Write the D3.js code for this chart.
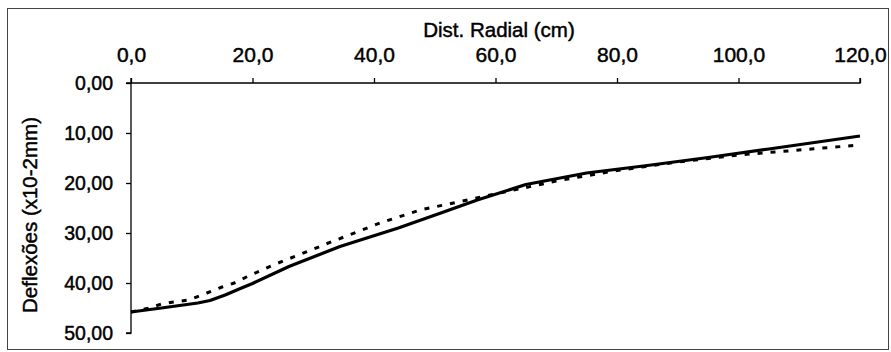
<!DOCTYPE html>
<html>
<head>
<meta charset="utf-8">
<script src="https://cdn.jsdelivr.net/npm/d3@7"></script>
<style>
  body { margin: 0; background: #fff; }
  svg text { font-family: "Liberation Sans", Arial, sans-serif; fill: #000; stroke: #000; stroke-width: 0.45px; }
</style>
</head>
<body>
<div id="chart"></div>
<script>
// Données
const xTicks = [0, 20, 40, 60, 80, 100, 120];
const yTicks = [0, 10, 20, 30, 40, 50];

// Courbe continue
const distSolid = [0, 5, 11, 13, 15.5, 18, 20, 26, 34.4, 44, 51, 57, 65, 75, 85, 95, 105, 120];
const defSolid = [45.8, 45.0, 44.0, 43.5, 42.4, 41.1, 40.1, 36.7, 32.7, 29.0, 26.0, 23.4, 20.3, 18.0, 16.5, 14.9, 13.2, 10.6];

// Courbe pointillée
const distDashed = [0, 3, 5, 7, 9.5, 12.5, 15, 17, 19, 23.4, 28, 32.3, 41, 47.6, 54.6, 60, 70, 80, 90, 100, 106, 112, 120];
const defDashed = [45.8, 45.0, 44.2, 43.8, 43.4, 42.0, 40.8, 40.0, 38.8, 36.4, 34.2, 32.1, 28.0, 25.4, 23.6, 22.2, 19.6, 17.5, 15.8, 14.4, 13.8, 13.2, 12.4];

const width = 891, height = 352;
const margin = { left: 131, right: 31, top: 83, bottom: 19 };

const svg = d3.select('#chart')
    .append('svg')
    .attr('width', width)
    .attr('height', height);

// Cadre extérieur
svg.append('rect')
    .attr('x', 7.5)
    .attr('y', 8.5)
    .attr('width', 881)
    .attr('height', 341)
    .attr('fill', 'none')
    .attr('stroke', '#444')
    .attr('stroke-width', 1);

const x = d3.scaleLinear()
    .domain([0, 120])
    .range([margin.left, width - margin.right]);

const y = d3.scaleLinear()
    .domain([0, 50])
    .range([margin.top, height - margin.bottom]);

const loc = d3.formatLocale({ decimal: ',', thousands: '.', grouping: [3], currency: ['', ''] });
const fx = loc.format('.1f');
const fy = loc.format('.2f');

// Axe X en haut
const gx = svg.append('g')
    .attr('transform', `translate(0,${margin.top})`)
    .call(d3.axisTop(x).tickValues(xTicks).tickFormat(fx).tickSize(5).tickPadding(16));

// Axe Y
const gy = svg.append('g')
    .attr('transform', `translate(${margin.left},0)`)
    .call(d3.axisLeft(y).tickValues(yTicks).tickFormat(fy).tickSize(5).tickPadding(13));

[gx, gy].forEach(g => {
    g.selectAll('path, line').attr('stroke', '#000').attr('stroke-width', 1.3);
});
gx.selectAll('text').attr('font-size', '21px');
gy.selectAll('text').attr('font-size', '19.5px');
gx.select('.domain').attr('d', `M${x(0)},${-5}V0H${x(120)}V${-5}`);
gy.select('.domain').attr('d', `M-5,${y(0)}H0V${y(50)}H-5`);

// Titres des axes
svg.append('text')
    .attr('x', 499)
    .attr('y', 37)
    .attr('text-anchor', 'middle')
    .attr('font-size', '20.5px')
    .text('Dist. Radial (cm)');

svg.append('text')
    .attr('transform', `translate(37,215) rotate(-90)`)
    .attr('text-anchor', 'middle')
    .attr('font-size', '20.5px')
    .text('Deflexões (x10-2mm)');

// Courbes
const line = d3.line()
    .x(d => x(d[0]))
    .y(d => y(d[1]));

svg.append('path')
    .datum(d3.zip(distDashed, defDashed))
    .attr('d', line)
    .attr('fill', 'none')
    .attr('stroke', '#000')
    .attr('stroke-width', 3)
    .attr('stroke-dasharray', '5,8');

svg.append('path')
    .datum(d3.zip(distSolid, defSolid))
    .attr('d', line)
    .attr('fill', 'none')
    .attr('stroke', '#000')
    .attr('stroke-width', 3.2)
    .attr('stroke-linejoin', 'round');
</script>
</body>
</html>
